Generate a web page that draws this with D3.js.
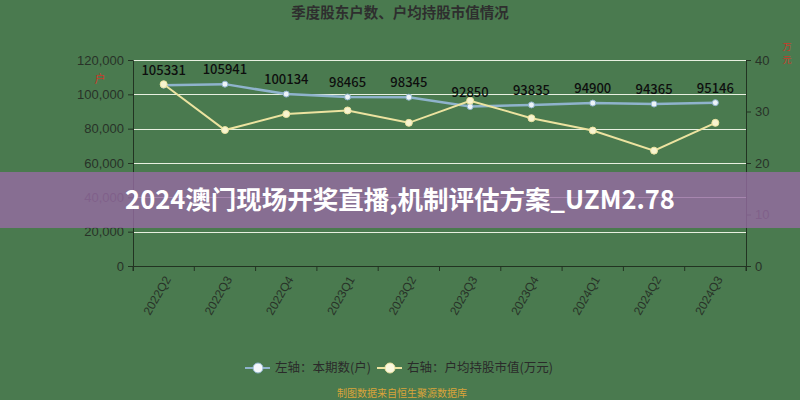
<!DOCTYPE html>
<html><head><meta charset="utf-8">
<script src="https://cdn.jsdelivr.net/npm/d3@7"></script>
<style>
html,body{margin:0;padding:0;background:#4a7a4f;}
svg{display:block;font-family:"Noto Sans CJK SC","Noto Sans",sans-serif;}
</style></head>
<body>
<svg id="c" width="800" height="400"></svg>
<script>
const categories = ["2022Q2","2022Q3","2022Q4","2023Q1","2023Q2","2023Q3","2023Q4","2024Q1","2024Q2","2024Q3"];
const holders = [105331,105941,100134,98465,98345,92850,93835,94900,94365,95146];
const avgValue = [35.3,26.4,29.5,30.2,27.8,32.1,28.7,26.3,22.4,27.8];
const leftTicks = [0,20000,40000,60000,80000,100000,120000];
const rightTicks = [0,10,20,30,40];
const title = "季度股东户数、户均持股市值情况";
const legendLabels = ["左轴：本期数(户)","右轴：户均持股市值(万元)"];
const footer = "制图数据来自恒生聚源数据库";
const overlayText = "2024澳门现场开奖直播,机制评估方案_UZM2.78";

const svg = d3.select("#c");
const L = 133, R = 746, T = 60, B = 266;
const x = d3.scaleBand().domain(categories).range([L, R]);
const yL = d3.scaleLinear().domain([0,120000]).range([B, T]);
const yR = d3.scaleLinear().domain([0,40]).range([B, T]);
const axisCol = "#223322", textCol = "#283228";

svg.append("rect").attr("width",800).attr("height",400).attr("fill","#4a7a4f");

svg.append("text").attr("x",400).attr("y",18).attr("text-anchor","middle")
  .attr("font-size",14.5).attr("font-weight","bold").attr("fill","#2e2e2e").text(title);

// grid
svg.append("g").selectAll("line").data(leftTicks.filter(d=>d>0)).join("line")
  .attr("x1",L).attr("x2",R).attr("y1",d=>Math.round(yL(d))+0.5).attr("y2",d=>Math.round(yL(d))+0.5)
  .attr("stroke","#e8f0e0").attr("stroke-width",1);

// left axis
const gL = svg.append("g").attr("transform",`translate(${L},0)`)
  .call(d3.axisLeft(yL).tickValues(leftTicks).tickFormat(d3.format(",")).tickSize(5).tickPadding(4));
gL.selectAll("text").attr("font-size",13).attr("fill",textCol);
gL.selectAll("line,path").attr("stroke",axisCol);

// right axis
const gR = svg.append("g").attr("transform",`translate(${R},0)`)
  .call(d3.axisRight(yR).tickValues(rightTicks).tickSize(5).tickPadding(4));
gR.selectAll("text").attr("font-size",13).attr("fill",textCol);
gR.selectAll("line,path").attr("stroke",axisCol);

// bottom axis
const gB = svg.append("g").attr("transform",`translate(0,${B})`)
  .call(d3.axisBottom(x).tickSizeOuter(5).tickSize(5).tickFormat(""));
gB.selectAll("line,path").attr("stroke",axisCol);
gB.selectAll(".tick").remove();
const bounds = categories.map(c=>x(c)).concat([R]);
gB.selectAll("line.b").data(bounds).join("line").attr("class","b")
  .attr("x1",d=>d).attr("x2",d=>d).attr("y1",0).attr("y2",5).attr("stroke",axisCol);
gB.selectAll("text.lab").data(categories).join("text").attr("class","lab")
  .attr("transform",d=>`translate(${x(d)+x.bandwidth()/2+4},11) rotate(-60)`)
  .attr("text-anchor","end").attr("dy","0.35em").attr("font-size",12).attr("fill",textCol).text(d=>d);

// red axis name glyphs
svg.append("text").attr("x",100).attr("y",83).attr("text-anchor","middle").attr("font-size",11)
  .attr("fill","#c83a2a").text("户");
svg.append("text").attr("x",787).attr("y",50).attr("text-anchor","middle").attr("font-size",9)
  .attr("fill","#c83a2a").text("万");
svg.append("text").attr("x",787).attr("y",63).attr("text-anchor","middle").attr("font-size",9)
  .attr("fill","#c83a2a").text("元");

const cx = d => x(d)+x.bandwidth()/2;
const blue = "#8fb3cc", yellow = "#ece3a0";

svg.append("path").datum(holders).attr("fill","none").attr("stroke",blue).attr("stroke-width",2.5)
  .attr("d",d3.line().x((d,i)=>cx(categories[i])).y(d=>yL(d)));
svg.append("path").datum(avgValue).attr("fill","none").attr("stroke",yellow).attr("stroke-width",2)
  .attr("d",d3.line().x((d,i)=>cx(categories[i])).y(d=>yR(d)));

svg.append("g").selectAll("circle").data(holders).join("circle")
  .attr("cx",(d,i)=>cx(categories[i])).attr("cy",d=>yL(d)).attr("r",3)
  .attr("fill","#eef4f8").attr("stroke",blue).attr("stroke-width",1);
svg.append("g").selectAll("circle").data(avgValue).join("circle")
  .attr("cx",(d,i)=>cx(categories[i])).attr("cy",d=>yR(d)).attr("r",3.5)
  .attr("fill","#f8f4d0").attr("stroke",yellow).attr("stroke-width",1);

// data labels
svg.append("g").selectAll("text").data(holders).join("text")
  .attr("x",(d,i)=>cx(categories[i])).attr("y",d=>yL(d)-10).attr("text-anchor","middle")
  .attr("font-size",13).attr("font-weight",500).attr("fill","#0e0e0e").text(d=>d);

// legend
const lg = svg.append("g");
lg.append("line").attr("x1",245).attr("x2",270).attr("y1",368).attr("y2",368).attr("stroke",blue).attr("stroke-width",2);
lg.append("circle").attr("cx",258).attr("cy",368).attr("r",5).attr("fill","#f4f8fb").attr("stroke",blue);
lg.append("text").attr("x",275).attr("y",368).attr("dy","0.35em").attr("font-size",12.5).attr("fill","#2a2a2a").text(legendLabels[0]);
lg.append("line").attr("x1",377).attr("x2",402).attr("y1",368).attr("y2",368).attr("stroke",yellow).attr("stroke-width",2);
lg.append("circle").attr("cx",390).attr("cy",368).attr("r",5).attr("fill","#fbf8df").attr("stroke",yellow);
lg.append("text").attr("x",407).attr("y",368).attr("dy","0.35em").attr("font-size",12.5).attr("fill","#2a2a2a").text(legendLabels[1]);

svg.append("text").attr("x",402).attr("y",397).attr("text-anchor","middle").attr("font-size",10)
  .attr("fill","#d9a43a").text(footer);

// overlay band
svg.append("rect").attr("x",0).attr("y",172).attr("width",800).attr("height",56).attr("fill","rgba(150,107,162,0.8)");
svg.append("text").attr("x",400).attr("y",200).attr("dy","0.35em").attr("text-anchor","middle")
  .attr("font-size",25.5).attr("font-weight","bold").attr("fill","#fff").text(overlayText);
</script>
</body></html>
